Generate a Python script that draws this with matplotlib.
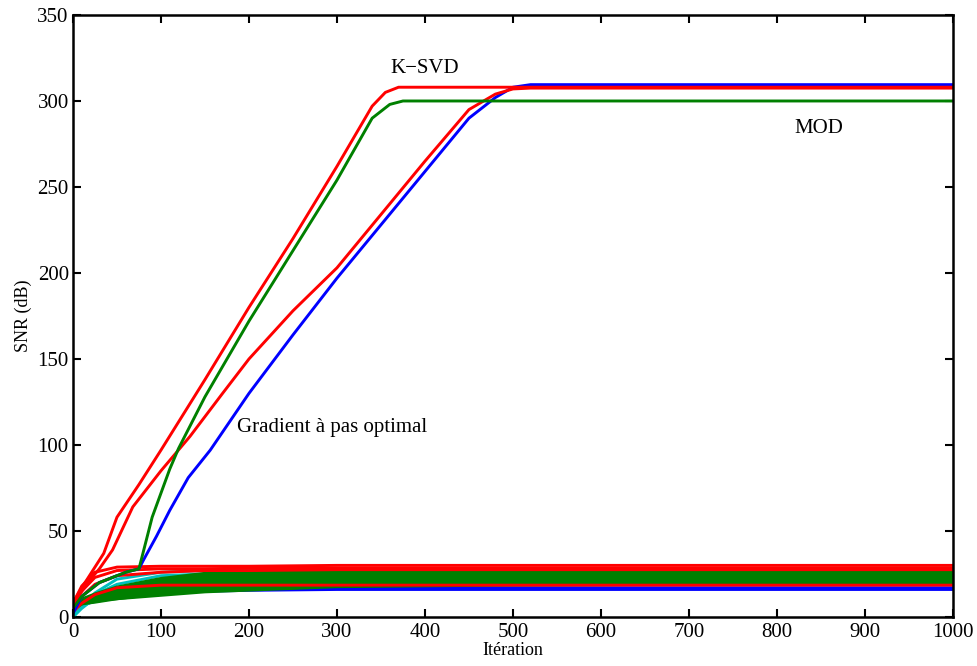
import matplotlib
matplotlib.use("Agg")
import matplotlib.pyplot as plt

plt.rcParams['font.family'] = ['Liberation Serif', 'DejaVu Serif']

# main curves (iteration, SNR dB)
ksvd_red_x = [0, 10, 20, 35, 50, 75, 100, 150, 200, 250, 300, 340, 355, 370, 400, 1000]
ksvd_red_y = [8, 17, 25, 37, 58, 77, 97, 138, 180, 220, 262, 297, 305, 308, 308, 308]

ksvd_green_x = [0, 10, 30, 60, 75, 80, 90, 100, 110, 120, 130, 150, 200, 250, 300, 340, 360, 375, 1000]
ksvd_green_y = [5, 12, 20, 26, 28, 38, 58, 72, 86, 98, 108, 128, 172, 213, 254, 290, 298, 300, 300]

mod_red_x = [0, 10, 20, 30, 45, 68, 100, 133, 170, 200, 250, 300, 350, 400, 450, 480, 500, 520, 1000]
mod_red_y = [8, 15, 22, 28, 39, 64, 85, 105, 130, 150, 178, 203, 234, 265, 295, 304, 307, 307.5, 307.5]

grad_blue_x = [0, 10, 30, 60, 75, 80, 95, 110, 131, 156, 200, 250, 300, 350, 400, 450, 480, 500, 520, 1000]
grad_blue_y = [2, 12, 20, 26, 28, 33, 47, 62, 81, 97, 130, 164, 197, 228, 259, 290, 302, 308, 309.5, 309.5]

# low SNR bundle, common iteration grid
bundle_x = [0, 10, 25, 50, 100, 150, 200, 300, 500, 1000]

bundle_blue = [
    [4, 8, 10, 12, 15, 16, 16.5, 17, 17, 17],
    [3, 7, 9, 11, 14, 15, 15.5, 16, 16, 16],
    [4, 9, 12, 15, 18, 19, 19, 19, 19, 19],
]
bundle_cyan = [
    [0, 6, 14, 22, 26, 27, 27, 27, 27, 27],
    [1, 7, 13, 19, 24, 25, 26, 26, 26, 26],
    [0, 5, 11, 17, 22, 24, 25, 25, 25, 25],
    [2, 7, 12, 16, 21, 23, 24, 24, 24, 24],
    [1, 6, 10, 14, 19, 21, 22, 23, 23, 23],
]
bundle_green = [
    [5, 10, 13, 17, 22, 25, 26, 27, 27.5, 28],
    [5, 9, 12, 16, 21, 24, 25, 26, 26.5, 27],
    [6, 10, 12, 15, 20, 22, 24, 25, 25.5, 26],
    [5, 9, 11, 14, 18, 21, 22, 23, 24, 25],
    [5, 9, 11, 13, 17, 19, 21, 22, 23, 24],
    [6, 9, 11, 13, 16, 18, 19, 21, 22, 23],
    [6, 9, 10, 12, 15, 17, 18, 20, 21, 22],
    [5, 8, 10, 11, 14, 16, 17, 19, 20, 21],
    [5, 8, 9, 11, 13, 15, 16, 18, 19, 20],
]
bundle_red = [
    [8, 18, 26, 29, 29.5, 29.5, 29.5, 30, 30, 30],
    [6, 15, 23, 27, 28, 28, 28.5, 28.5, 28.5, 28.5],
    [5, 12, 19, 24, 26, 27, 27, 27.5, 27.5, 27.5],
    [3, 8, 13, 17, 18.5, 18.5, 18.5, 18.5, 18.5, 18.5],
]

fig = plt.figure(figsize=(9.78, 6.66), dpi=100)
ax = fig.add_axes([0.0746, 0.0736, 0.8998, 0.9039])

lw = 2.1
for y in bundle_blue:
    ax.plot(bundle_x, y, color='blue', lw=lw)
for y in bundle_cyan:
    ax.plot(bundle_x, y, color='c', lw=lw)
for y in bundle_green:
    ax.plot(bundle_x, y, color='green', lw=lw + 1)
for y in bundle_red:
    ax.plot(bundle_x, y, color='red', lw=lw)

ax.plot(grad_blue_x, grad_blue_y, color='blue', lw=lw)
ax.plot(mod_red_x, mod_red_y, color='red', lw=lw)
ax.plot(ksvd_green_x, ksvd_green_y, color='green', lw=lw)
ax.plot(ksvd_red_x, ksvd_red_y, color='red', lw=lw)

ax.text(400, 319, 'K\u2212SVD', fontsize=15, ha='center', va='center')
ax.text(847, 284, 'MOD', fontsize=15, ha='center', va='center')
ax.text(186, 110, 'Gradient à pas optimal', fontsize=15, ha='left', va='center')

ax.set_xlim(0, 1000)
ax.set_ylim(0, 350)
ax.set_xticks(range(0, 1001, 100))
ax.set_yticks(range(0, 351, 50))
ax.tick_params(direction='in', length=6, width=1.5, labelsize=15,
               top=True, right=True)
ax.tick_params(axis='x', pad=4)
ax.tick_params(axis='y', pad=3)
for s in ax.spines.values():
    s.set_linewidth(1.8)
ax.set_xlabel('Itération', fontsize=13, labelpad=0)
ax.set_ylabel('SNR (dB)', fontsize=13, labelpad=4)

fig.savefig('out.png', dpi=100)
